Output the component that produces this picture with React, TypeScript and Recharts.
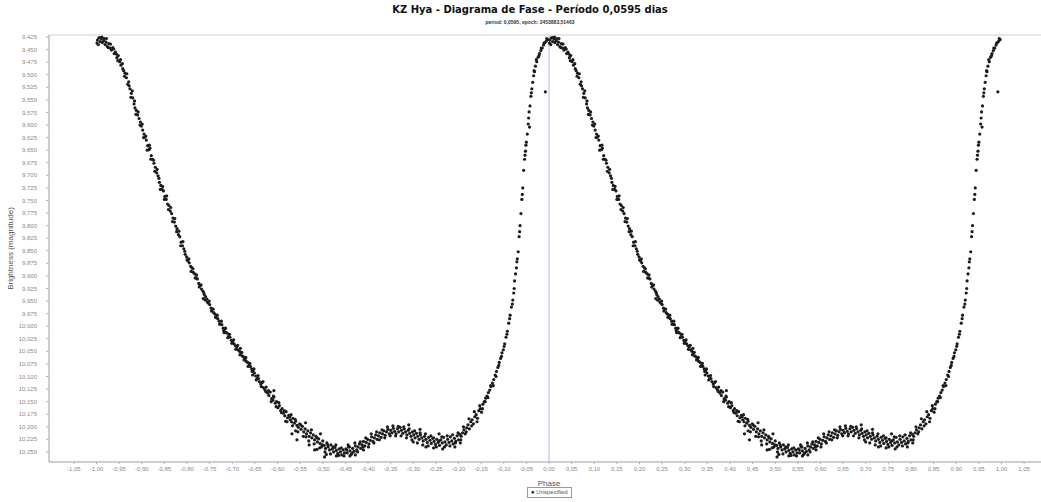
import React from 'react'
import { ScatterChart, Scatter, XAxis, YAxis, ReferenceLine, ReferenceArea } from 'recharts'

// one cycle of observations, [phase, magnitude]; drawn at phase and phase-1
const peakObs: [number, number][] = [
  [0.001,9.437],[0.002,9.431],[0.005,9.427],[0.007,9.426],[0.008,9.434],[0.011,9.429],[0.013,9.436],[0.016,9.432],
  [0.017,9.428],[0.019,9.440],[0.021,9.435],[0.024,9.444],[0.026,9.446],[0.027,9.438],[0.030,9.447],[0.033,9.451],
  [0.036,9.446],[0.039,9.458],[0.042,9.455],[0.044,9.459],[0.045,9.466],[0.048,9.462],[0.051,9.474],[0.054,9.481],[0.057,9.478],
]

const fallObs: [number, number][] = [
  [0.060,9.492],[0.063,9.497],[0.066,9.506],[0.069,9.519],[0.071,9.514],[0.074,9.528],[0.077,9.537],[0.080,9.546],
  [0.083,9.558],[0.085,9.566],[0.088,9.571],[0.091,9.580],[0.094,9.587],[0.097,9.594],[0.099,9.602],
  [0.102,9.610],[0.105,9.618],[0.107,9.624],[0.110,9.630],[0.113,9.641],[0.116,9.649],[0.118,9.646],[0.121,9.661],
  [0.124,9.668],[0.127,9.676],[0.130,9.684],[0.133,9.695],[0.136,9.701],[0.139,9.714],[0.142,9.720],[0.145,9.728],
  [0.148,9.731],[0.151,9.742],[0.154,9.748],[0.157,9.757],[0.160,9.760],[0.163,9.771],[0.166,9.776],[0.169,9.785],
  [0.172,9.793],[0.175,9.801],[0.178,9.806],[0.181,9.818],[0.184,9.822],[0.187,9.833],[0.190,9.840],[0.193,9.846],
  [0.196,9.857],[0.199,9.862],[0.202,9.870],[0.205,9.874],[0.208,9.881],[0.211,9.884],[0.214,9.893],[0.217,9.896],
  [0.220,9.904],[0.223,9.906],[0.226,9.915],[0.229,9.919],[0.232,9.926],[0.235,9.930],[0.236,9.945],[0.238,9.937],
  [0.241,9.941],[0.244,9.946],[0.247,9.954],[0.250,9.957],[0.253,9.964],[0.256,9.966],[0.259,9.973],[0.262,9.976],
  [0.265,9.983],[0.268,9.985],[0.271,9.990],[0.274,9.996],[0.277,9.997],[0.280,10.004],[0.282,10.013],[0.283,10.006],
  [0.286,10.012],[0.289,10.014],[0.292,10.020],[0.295,10.022],[0.298,10.028],[0.301,10.031],[0.304,10.035],[0.307,10.039],
  [0.310,10.041],[0.313,10.047],[0.316,10.050],[0.318,10.044],[0.319,10.053],[0.322,10.059],[0.325,10.061],[0.328,10.066],
  [0.331,10.070],[0.334,10.072],[0.337,10.078],[0.340,10.080],[0.343,10.085],[0.345,10.097],[0.346,10.089],[0.349,10.093],
]

const minObs: [number, number][] = [
  [0.352,10.099],[0.355,10.104],[0.357,10.098],[0.360,10.110],[0.363,10.115],[0.366,10.112],[0.369,10.122],[0.372,10.126],
  [0.375,10.121],[0.378,10.133],[0.381,10.138],[0.384,10.131],[0.387,10.144],[0.390,10.147],[0.392,10.141],[0.392,10.128],
  [0.395,10.153],[0.398,10.150],[0.401,10.162],[0.404,10.158],[0.407,10.168],[0.410,10.164],[0.413,10.173],[0.416,10.178],
  [0.418,10.189],[0.419,10.170],[0.422,10.182],[0.425,10.177],[0.428,10.186],[0.430,10.176],[0.431,10.190],[0.432,10.214],
  [0.434,10.183],[0.437,10.193],[0.440,10.189],[0.440,10.208],[0.443,10.197],[0.443,10.226],[0.446,10.201],[0.449,10.194],
  [0.452,10.205],[0.455,10.199],[0.458,10.210],[0.461,10.204],[0.462,10.192],[0.464,10.214],[0.467,10.208],[0.470,10.219],
  [0.470,10.236],[0.473,10.212],[0.476,10.222],[0.479,10.216],[0.482,10.226],[0.482,10.246],[0.485,10.219],[0.487,10.245],
  [0.488,10.230],[0.491,10.224],[0.494,10.233],[0.495,10.214],[0.497,10.240],[0.500,10.228],[0.503,10.237],[0.504,10.260],
  [0.506,10.243],[0.508,10.255],[0.509,10.232],[0.512,10.240],[0.515,10.246],[0.518,10.236],[0.521,10.244],[0.524,10.250],
  [0.527,10.241],[0.530,10.247],[0.530,10.258],[0.533,10.253],[0.536,10.244],[0.539,10.250],[0.542,10.256],[0.545,10.246],
  [0.548,10.252],[0.551,10.244],[0.554,10.252],[0.556,10.236],[0.557,10.240],[0.560,10.248],[0.560,10.258],[0.563,10.255],
  [0.566,10.243],[0.569,10.249],[0.572,10.238],[0.572,10.256],[0.575,10.246],[0.578,10.240],[0.581,10.234],[0.584,10.243],
  [0.587,10.236],[0.590,10.229],[0.590,10.246],[0.593,10.238],[0.596,10.231],[0.599,10.225],[0.602,10.234],[0.605,10.227],
  [0.608,10.220],[0.611,10.229],[0.614,10.222],[0.617,10.216],[0.620,10.225],[0.623,10.218],[0.626,10.212],[0.629,10.221],
  [0.632,10.214],[0.635,10.208],[0.638,10.217],[0.641,10.210],[0.644,10.205],[0.647,10.214],
]

const humpObs: [number, number][] = [
  [0.650,10.207],[0.653,10.212],[0.656,10.203],[0.659,10.209],[0.662,10.214],[0.665,10.204],[0.668,10.210],[0.671,10.201],
  [0.674,10.207],[0.677,10.213],[0.680,10.204],[0.683,10.210],[0.686,10.216],[0.689,10.207],[0.690,10.196],[0.692,10.213],
  [0.695,10.219],[0.698,10.210],[0.700,10.230],[0.701,10.216],[0.704,10.222],[0.707,10.213],[0.710,10.219],[0.713,10.225],
  [0.715,10.205],[0.716,10.216],[0.719,10.222],[0.722,10.228],[0.725,10.219],[0.728,10.225],[0.728,10.240],[0.731,10.231],
  [0.734,10.221],[0.737,10.227],[0.740,10.233],[0.743,10.223],[0.745,10.242],[0.746,10.229],[0.749,10.235],[0.752,10.225],
  [0.755,10.231],[0.757,10.214],[0.758,10.237],[0.761,10.226],[0.764,10.232],[0.765,10.244],[0.767,10.221],[0.770,10.230],
  [0.773,10.236],[0.776,10.225],[0.779,10.231],[0.782,10.220],[0.785,10.228],[0.788,10.234],[0.791,10.223],[0.792,10.240],
  [0.794,10.229],[0.797,10.218],[0.800,10.226],[0.803,10.215],[0.804,10.232],
]

const riseObs: [number, number][] = [
  [0.806,10.219],[0.809,10.212],[0.812,10.206],[0.815,10.214],[0.818,10.202],[0.821,10.196],[0.824,10.204],[0.827,10.190],
  [0.830,10.186],[0.833,10.194],[0.836,10.180],[0.839,10.176],[0.842,10.183],[0.845,10.168],[0.848,10.164],[0.851,10.171],
  [0.854,10.155],[0.857,10.150],[0.860,10.143],[0.863,10.139],[0.866,10.132],[0.869,10.127],[0.872,10.120],[0.875,10.113],
  [0.878,10.106],[0.881,10.097],[0.884,10.090],[0.887,10.082],[0.890,10.072],[0.893,10.064],[0.896,10.053],[0.899,10.047],
  [0.902,10.035],[0.905,10.022],[0.908,10.010],[0.911,9.994],[0.914,9.978],[0.917,9.962],[0.920,9.948],[0.922,9.934],
  [0.924,9.910],[0.926,9.896],[0.928,9.884],[0.930,9.866],[0.932,9.852],[0.934,9.822],[0.936,9.800],[0.938,9.776],
  [0.940,9.748],[0.942,9.725],[0.944,9.690],[0.946,9.668],[0.947,9.660],[0.948,9.652],[0.950,9.634],[0.952,9.618],
  [0.954,9.598],[0.956,9.574],[0.957,9.604],[0.958,9.562],[0.960,9.543],[0.962,9.528],[0.964,9.515],[0.966,9.502],
  [0.968,9.494],[0.970,9.483],[0.973,9.474],[0.976,9.465],[0.979,9.458],[0.982,9.452],[0.985,9.447],[0.988,9.441],
  [0.991,9.436],[0.992,9.534],[0.994,9.433],[0.997,9.430],
]

// the noisier observations lying off the main track
const spreadObs: [number, number][] = [
  [0.004,9.440],[0.012,9.425],[0.022,9.428],[0.031,9.439],[0.038,9.449],[0.047,9.472],[0.053,9.470],[0.058,9.488],
  [0.062,9.503],[0.067,9.498],[0.072,9.522],[0.076,9.545],[0.079,9.532],[0.084,9.552],[0.087,9.579],[0.092,9.574],
  [0.096,9.600],[0.101,9.598],[0.104,9.625],[0.109,9.622],[0.112,9.650],[0.117,9.640],[0.120,9.668],[0.126,9.670],
  [0.129,9.692],[0.134,9.688],[0.138,9.706],[0.141,9.728],[0.146,9.722],[0.150,9.748],[0.155,9.741],[0.159,9.768],
  [0.164,9.764],[0.168,9.792],[0.173,9.786],[0.177,9.812],[0.182,9.811],[0.186,9.840],[0.191,9.832],[0.195,9.851],
  [0.200,9.868],[0.204,9.866],[0.209,9.891],[0.213,9.886],[0.218,9.904],[0.221,9.898],[0.227,9.922],[0.231,9.918],
  [0.237,9.933],[0.240,9.948],[0.245,9.952],[0.249,9.950],[0.254,9.970],[0.258,9.966],[0.263,9.982],[0.267,9.978],
  [0.272,9.996],[0.276,9.990],[0.281,10.009],[0.285,10.004],[0.290,10.023],[0.294,10.016],[0.299,10.034],[0.303,10.027],
  [0.308,10.046],[0.312,10.038],[0.317,10.057],[0.321,10.052],[0.326,10.067],[0.330,10.062],[0.335,10.080],[0.339,10.074],
  [0.344,10.090],[0.348,10.085],[0.353,10.107],[0.358,10.104],[0.364,10.120],[0.368,10.110],[0.374,10.130],[0.380,10.128],
  [0.386,10.150],[0.391,10.139],[0.397,10.160],[0.403,10.152],[0.409,10.172],[0.415,10.168],[0.421,10.190],[0.427,10.180],
  [0.433,10.198],[0.439,10.185],[0.445,10.210],[0.451,10.196],[0.457,10.219],[0.463,10.220],[0.469,10.228],[0.475,10.206],
  [0.481,10.234],[0.487,10.222],[0.493,10.242],[0.499,10.236],[0.505,10.250],[0.511,10.236],[0.517,10.254],[0.523,10.240],
  [0.529,10.236],[0.535,10.257],[0.541,10.242],[0.547,10.258],[0.553,10.246],[0.559,10.240],[0.565,10.252],[0.571,10.232],
  [0.577,10.250],[0.583,10.230],[0.589,10.240],[0.595,10.222],[0.601,10.240],[0.607,10.214],[0.613,10.232],[0.619,10.210],
  [0.625,10.226],[0.631,10.206],[0.637,10.222],[0.643,10.200],[0.649,10.218],[0.655,10.198],[0.661,10.218],[0.667,10.199],
  [0.673,10.218],[0.679,10.200],[0.685,10.222],[0.691,10.204],[0.697,10.226],[0.703,10.208],[0.709,10.232],[0.715,10.212],
  [0.721,10.236],[0.727,10.214],[0.733,10.238],[0.739,10.218],[0.745,10.222],[0.751,10.240],[0.757,10.228],[0.763,10.220],
  [0.769,10.240],[0.775,10.218],[0.781,10.238],[0.787,10.216],[0.793,10.232],[0.799,10.212],[0.805,10.226],[0.811,10.200],
  [0.817,10.210],[0.823,10.184],[0.829,10.198],[0.835,10.170],[0.841,10.190],[0.847,10.158],[0.853,10.164],[0.859,10.150],
  [0.865,10.142],[0.871,10.118],[0.877,10.118],[0.883,10.100],[0.889,10.078],[0.895,10.060],[0.901,10.040],[0.907,10.016],
  [0.913,9.985],[0.919,9.956],[0.923,9.925],[0.929,9.872],[0.935,9.812],[0.941,9.738],[0.949,9.640],[0.955,9.586],
  [0.961,9.536],[0.967,9.492],[0.972,9.470],[0.978,9.462],[0.983,9.447],[0.989,9.437],[0.995,9.428],
]

const xTicks = [-1.05,-1,-0.95,-0.9,-0.85,-0.8,-0.75,-0.7,-0.65,-0.6,-0.55,-0.5,-0.45,-0.4,-0.35,-0.3,-0.25,-0.2,-0.15,-0.1,-0.05,
  0,0.05,0.1,0.15,0.2,0.25,0.3,0.35,0.4,0.45,0.5,0.55,0.6,0.65,0.7,0.75,0.8,0.85,0.9,0.95,1,1.05]
const yTicks = [9.425,9.45,9.475,9.5,9.525,9.55,9.575,9.6,9.625,9.65,9.675,9.7,9.725,9.75,9.775,9.8,9.825,9.85,9.875,9.9,
  9.925,9.95,9.975,10,10.025,10.05,10.075,10.1,10.125,10.15,10.175,10.2,10.225,10.25]

const xDomain: [number, number] = [-1.105, 1.105]
const yDomain: [number, number] = [9.421, 10.27]

const obs = [...peakObs, ...fallObs, ...minObs, ...humpObs, ...riseObs, ...spreadObs]
const points = [
  ...obs.map(([p, m]) => ({ phase: p - 1, mag: m })),
  ...obs.map(([p, m]) => ({ phase: p, mag: m })),
]

const fmtX = (v: number) => v.toFixed(2).replace('.', ',')
const fmtY = (v: number) => v.toFixed(3).replace('.', ',')
const tickStyle = { fill: '#8a8a8a', fontSize: 6, fontFamily: 'Liberation Sans, sans-serif' }

const Dot = (props: any) => <circle cx={props.cx} cy={props.cy} r={1.6} fill="#1c1c1c" />

export default function App() {
  return (
    <div style={{ position: 'absolute', left: 0, top: 0, width: 1041, height: 502, overflow: 'hidden', background: '#fff', fontFamily: 'Liberation Sans, sans-serif' }}>
      <div style={{ position: 'absolute', left: 0, top: 4, width: 1060, textAlign: 'center', fontFamily: 'DejaVu Sans, sans-serif', fontWeight: 'bold', fontSize: 10, color: '#111' }}>
        KZ Hya - Diagrama de Fase - Período 0,0595 dias
      </div>
      <div style={{ position: 'absolute', left: 0, top: 19, width: 1060, textAlign: 'center', fontWeight: 'bold', fontSize: 5, color: '#333' }}>
        period: 0,0595, epoch: 2453883,51463
      </div>
      <ScatterChart width={1060} height={502} margin={{ top: 35, right: 11, bottom: 0, left: 0 }}>
        <ReferenceArea x1={xDomain[0]} x2={xDomain[1]} y1={yDomain[0]} y2={yDomain[1]} fill="none" stroke="#cfcfcf" ifOverflow="visible" />
        <XAxis type="number" dataKey="phase" domain={xDomain} ticks={xTicks} tickFormatter={fmtX} allowDataOverflow
          height={40} tick={tickStyle} tickSize={2} tickMargin={3} interval={0}
          axisLine={{ stroke: '#b5b5b5' }} tickLine={{ stroke: '#b5b5b5' }}
          label={{ value: 'Phase', position: 'center', dy: 1, fill: '#555', fontSize: 8 }} />
        <YAxis type="number" dataKey="mag" domain={yDomain} ticks={yTicks} tickFormatter={fmtY} reversed allowDataOverflow
          width={49} tick={tickStyle} tickSize={3} tickMargin={9} interval={0}
          axisLine={{ stroke: '#b5b5b5' }} tickLine={{ stroke: '#b5b5b5' }}
          label={{ value: 'Brightness (magnitude)', angle: -90, position: 'center', dx: -14, fill: '#555', fontSize: 8 }} />
        <ReferenceLine x={0} stroke="#cdd0f2" strokeWidth={1.5} />
        <Scatter name="Unspecified" data={points} shape={Dot} isAnimationActive={false} />
      </ScatterChart>
      <div style={{ position: 'absolute', left: 527, top: 487, border: '1px solid #999', padding: '0 3px', fontSize: 6, lineHeight: '9px', color: '#555', background: '#fff' }}>
        <span style={{ color: '#111' }}>●</span> Unspecified
      </div>
    </div>
  )
}
